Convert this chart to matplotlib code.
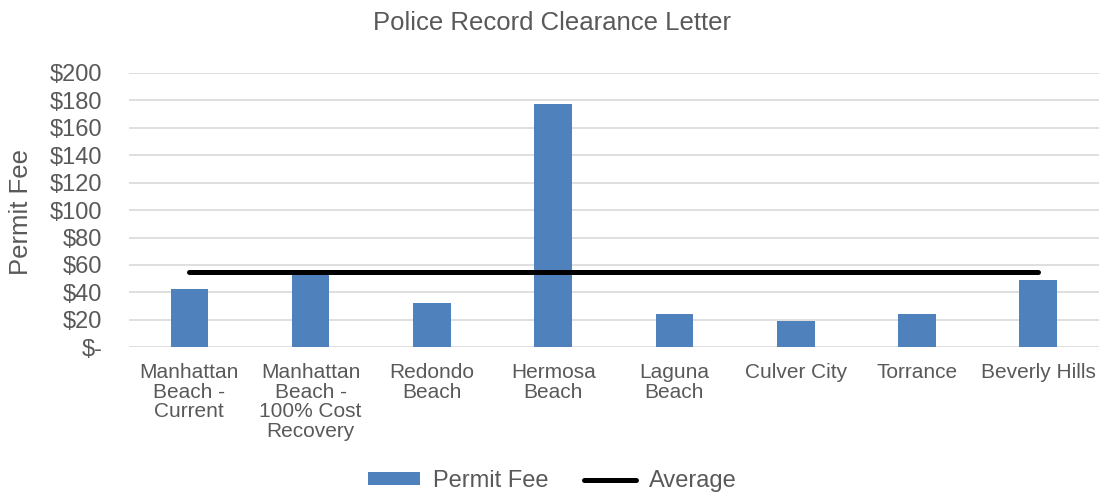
import numpy as np
import matplotlib.pyplot as plt
from matplotlib.ticker import FuncFormatter

plt.rcParams['font.family'] = ['Liberation Sans', 'DejaVu Sans']

# permit fees by city
cities = ["Manhattan\nBeach -\nCurrent", "Manhattan\nBeach -\n100% Cost\nRecovery",
          "Redondo\nBeach", "Hermosa\nBeach", "Laguna\nBeach", "Culver City",
          "Torrance", "Beverly Hills"]
fees = [42.7, 54.5, 32.3, 177.0, 24.5, 19.4, 24.5, 48.8]
average = [54.6] * len(cities)

grey = '#595959'
x = np.arange(len(cities))

fig = plt.figure(figsize=(11, 4.92), dpi=100)
ax = fig.add_axes([0.117, 0.294, 0.882, 0.558])

bars = ax.bar(x, fees, width=0.31, color='#4F81BD', label='Permit Fee', zorder=2)
line, = ax.plot(x, average, color='black', lw=3.6, solid_capstyle='round',
                label='Average', zorder=3)

ax.set_xlim(-0.5, len(cities) - 0.5)
ax.set_ylim(0, 200)
ax.set_yticks(np.arange(0, 201, 20))
ax.yaxis.set_major_formatter(FuncFormatter(lambda v, p: '$-' if v == 0 else f'${v:.0f}'))
ax.set_xticks(x)
ax.set_xticklabels(cities, linespacing=1.06)

ax.grid(axis='y', color='#d9d9d9', lw=1.2, zorder=0)
for s in ax.spines.values():
    s.set_visible(False)
ax.tick_params(axis='both', length=0, colors=grey)
ax.tick_params(axis='y', labelsize=17, pad=19)
ax.tick_params(axis='x', labelsize=15, pad=11)

fig.text(0.019, 0.57, 'Permit Fee', rotation=90, ha='center', va='center',
         fontsize=18.5, color=grey)
fig.text(0.502, 0.953, 'Police Record Clearance Letter', ha='center', va='center',
         fontsize=18.5, color=grey)

leg = fig.legend([bars, line], ['Permit Fee', 'Average'], loc='center',
                 bbox_to_anchor=(0.502, 0.022), ncol=2, frameon=False,
                 fontsize=17, handlelength=2.2, handleheight=0.47,
                 columnspacing=1.5, handletextpad=0.55, borderpad=0)
for t in leg.get_texts():
    t.set_color(grey)

fig.savefig('out.png', dpi=100)
